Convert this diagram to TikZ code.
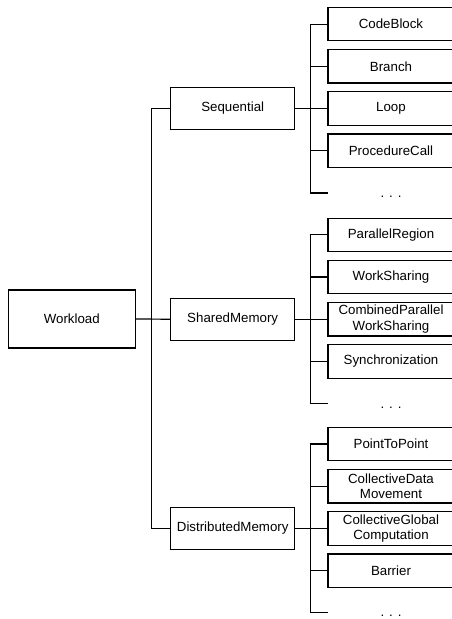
\documentclass[tikz,border=0pt]{standalone}
\usepackage{fontspec}
\setmainfont{Liberation Sans}
\usepackage{tikz}

\begin{document}
\begin{tikzpicture}[x=1pt,y=-1pt,line width=1.2pt,
    font=\fontsize{13.3}{15.5}\selectfont,
    rootbox/.style={draw,minimum width=127pt,minimum height=58pt,inner sep=0pt},
    groupbox/.style={draw,minimum width=124pt,minimum height=42pt,inner sep=0pt},
    leafbox/.style={draw,minimum width=126pt,minimum height=33.4pt,inner sep=0pt,align=center}]
        \def\p{42.2}
        \def\lx{391}
        \useasboundingbox (0,0) rectangle (452,619);
        \clip (0,0) rectangle (452,619);

        % 根
        \node[rootbox] (work) at (71.8,319) {Workload};

        % 中間
        \node[groupbox] (seq) at (232.7,108.5) {Sequential};
        \node[groupbox] (shm) at (232.7,319.2) {SharedMemory};
        \node[groupbox] (dist) at (232.7,528.4) {DistributedMemory};

        % 幹線
        \draw (work.east) -- (shm.west);
        \draw (seq.west) -- ++(-18.4,0) |- (dist.west);

        % --- Sequential ---
        \node[leafbox] (codeblock) at (\lx,108.5-2*\p) {CodeBlock};
        \node[leafbox] (branch) at (\lx,108.5-\p) {Branch};
        \node[leafbox] (loop) at (\lx,108.5) {Loop};
        \node[leafbox] (proccall) at (\lx,108.5+\p) {ProcedureCall};
        \coordinate (seqend) at (328,108.5+2*\p);
        \node[anchor=base] (seqdots) at (\lx,108.5+2*\p+5) {. . .};
        \draw (seq.east) -- (loop.west);
        \draw (codeblock.west) -- ++(-17,0) |- (seqend);
        \draw (branch.west) -- ++(-17,0);
        \draw (proccall.west) -- ++(-17,0);

        % --- SharedMemory ---
        \node[leafbox] (parregion) at (\lx,319.2-2*\p) {ParallelRegion};
        \node[leafbox] (worksharing) at (\lx,319.2-\p) {WorkSharing};
        \node[leafbox] (combined) at (\lx,319.2) {CombinedParallel\\WorkSharing};
        \node[leafbox] (sync) at (\lx,319.2+\p) {Synchronization};
        \coordinate (shmend) at (328,319.2+2*\p);
        \node[anchor=base] (shmdots) at (\lx,319.2+2*\p+5) {. . .};
        \draw (shm.east) -- (combined.west);
        \draw (parregion.west) -- ++(-17,0) |- (shmend);
        \draw (worksharing.west) -- ++(-17,0);
        \draw (sync.west) -- ++(-17,0);

        % --- DistributedMemory ---
        \node[leafbox] (p2p) at (\lx,528.4-2*\p) {PointToPoint};
        \node[leafbox] (colldata) at (\lx,528.4-\p) {CollectiveData\\Movement};
        \node[leafbox] (collglobal) at (\lx,528.4) {CollectiveGlobal\\Computation};
        \node[leafbox] (barrier) at (\lx,528.4+\p) {Barrier};
        \coordinate (distend) at (328,528.4+2*\p);
        \node[anchor=base] (distdots) at (\lx,528.4+2*\p+4) {. . .};
        \draw (dist.east) -- (collglobal.west);
        \draw (p2p.west) -- ++(-17,0) |- (distend);
        \draw (colldata.west) -- ++(-17,0);
        \draw (barrier.west) -- ++(-17,0);
      \end{tikzpicture}
\end{document}
